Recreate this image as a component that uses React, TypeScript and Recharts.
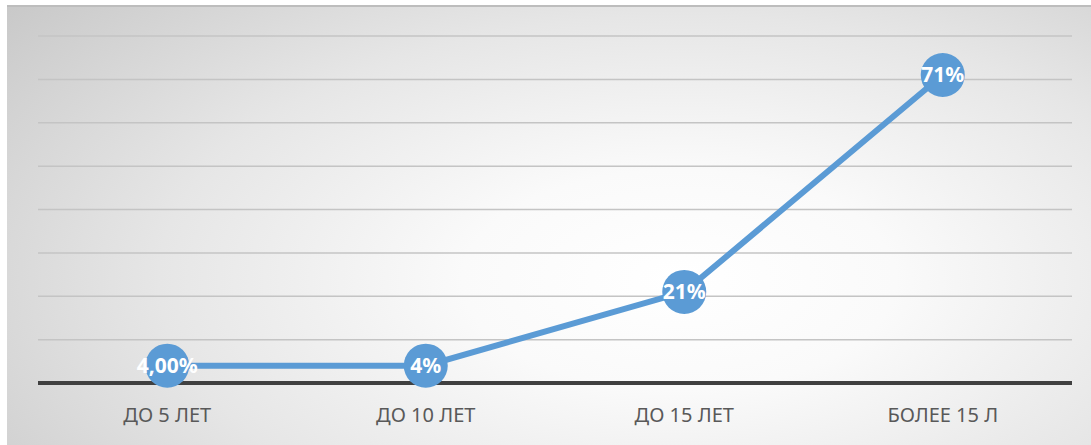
import React from "react";
import { LineChart, Line, XAxis, YAxis, CartesianGrid, LabelList } from "recharts";

const categories = ["ДО 5 ЛЕТ", "ДО 10 ЛЕТ", "ДО 15 ЛЕТ", "БОЛЕЕ 15 Л"];
const values = [4, 4, 21, 71];
const valueLabels = ["4,00%", "4%", "21%", "71%"];
const yTicks = [0, 10, 20, 30, 40, 50, 60, 70, 80];

const data = categories.map((name, i) => ({ name, value: values[i], label: valueLabels[i] }));

const FONT = "'Noto Sans', 'Open Sans', sans-serif";

function XTick(props: any) {
  const { x, y, payload } = props;
  return (
    <text x={x} y={y + 31} textAnchor="middle" fill="#595959" fontSize={20} fontFamily={FONT}>
      {payload.value}
    </text>
  );
}

export default function App() {
  return (
    <div
      style={{
        position: "absolute",
        left: 7,
        top: 5,
        width: 1084,
        height: 440,
        borderTop: "2px solid #bdbdbd",
        background:
          "radial-gradient(ellipse 80% 100% at 62% 62%, #ffffff 0%, #fafafa 25%, #e6e6e6 60%, #c8c8c8 100%)",
      }}
    >
      <LineChart width={1084} height={438} data={data} margin={{ top: 29, right: 19, bottom: 18, left: 31 }}>
        <CartesianGrid vertical={false} stroke="#c4c4c4" strokeWidth={1.5} />
        <YAxis hide domain={[0, 80]} ticks={yTicks} />
        <XAxis
          dataKey="name"
          scale="band"
          axisLine={{ stroke: "#404040", strokeWidth: 4 }}
          tickLine={false}
          tick={<XTick />}
          height={44}
          interval={0}
        />
        <Line
          type="linear"
          dataKey="value"
          stroke="#5b9bd5"
          strokeWidth={6}
          isAnimationActive={false}
          dot={{ r: 22, fill: "#5b9bd5", stroke: "none" }}
          activeDot={false}
        >
          <LabelList
            dataKey="label"
            position="center"
            fill="#ffffff"
            fontSize={21}
            fontWeight="bold"
            fontFamily={FONT}
          />
        </Line>
      </LineChart>
    </div>
  );
}
